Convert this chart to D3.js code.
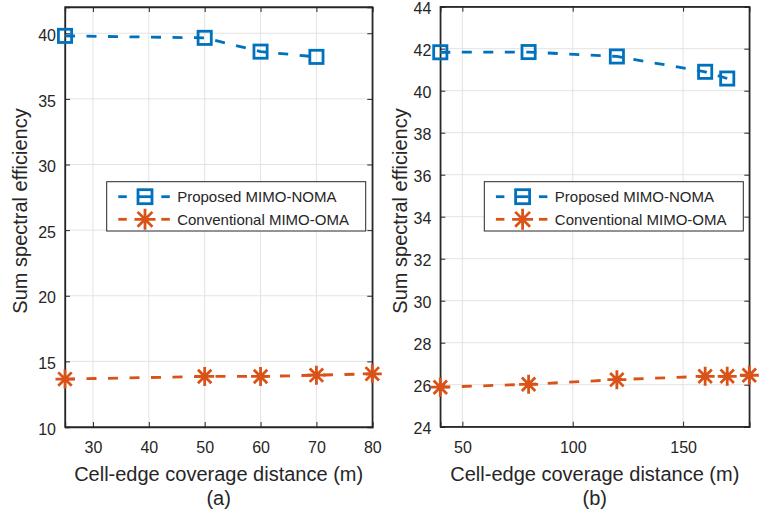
<!DOCTYPE html>
<html><head><meta charset="utf-8">
<script src="https://cdn.jsdelivr.net/npm/d3@7"></script>
<style>body{margin:0;background:#fff}svg{display:block}text{font-family:"Liberation Sans",Arial,sans-serif;fill:#262626}</style>
</head><body>
<svg id="c" width="764" height="516"></svg>
<script>
// ---- data ----
const seriesNames = ["Proposed MIMO-NOMA", "Conventional MIMO-OMA"];
// panel (a)
const aNomaX = [25, 50, 60, 70];
const aNomaY = [39.8, 39.65, 38.6, 38.2];
const aOmaX = [25, 50, 60, 70, 80];
const aOmaY = [13.65, 13.85, 13.85, 13.95, 14.05];
const aXTicks = [30, 40, 50, 60, 70, 80];
const aYTicks = [10, 15, 20, 25, 30, 35, 40];
// panel (b)
const bNomaX = [40, 80, 120, 160, 170];
const bNomaY = [41.83, 41.84, 41.63, 40.9, 40.58];
const bOmaX = [40, 80, 120, 160, 170, 180];
const bOmaY = [25.88, 26.02, 26.24, 26.4, 26.4, 26.45];
const bXTicks = [50, 100, 150];
const bYTicks = [24, 26, 28, 30, 32, 34, 36, 38, 40, 42, 44];

const blue = "#0072BD", orange = "#D95319", axisCol = "#262626", gridCol = "#e3e3e3";
const svg = d3.select("#c");
const LW = 2.8;

function asteriskPath(s){
  const r = s/2, d = r*0.707;
  return `M${-r},0L${r},0M0,${-r}L0,${r}M${-d},${-d}L${d},${d}M${-d},${d}L${d},${-d}`;
}

function panel(o){
  const g = svg.append("g");
  const x = d3.scaleLinear().domain(o.xDom).range([o.left, o.right]);
  const y = d3.scaleLinear().domain(o.yDom).range([o.bottom, o.top]);
  // grid
  g.append("g").selectAll("line").data(o.xTicks).join("line")
    .attr("x1", d=>x(d)).attr("x2", d=>x(d)).attr("y1", o.top).attr("y2", o.bottom)
    .attr("stroke", gridCol).attr("stroke-width", 1);
  g.append("g").selectAll("line").data(o.yTicks).join("line")
    .attr("y1", d=>y(d)).attr("y2", d=>y(d)).attr("x1", o.left).attr("x2", o.right)
    .attr("stroke", gridCol).attr("stroke-width", 1);
  // axes
  const ax = g.append("g").attr("transform", `translate(0,${o.bottom})`)
    .call(d3.axisBottom(x).tickValues(o.xTicks).tickSize(-5).tickPadding(15));
  const axT = g.append("g").attr("transform", `translate(0,${o.top})`)
    .call(d3.axisTop(x).tickValues(o.xTicks).tickSize(-5).tickFormat(""));
  const ay = g.append("g").attr("transform", `translate(${o.left},0)`)
    .call(d3.axisLeft(y).tickValues(o.yTicks).tickSize(-5).tickPadding(9));
  const ayR = g.append("g").attr("transform", `translate(${o.right},0)`)
    .call(d3.axisRight(y).tickValues(o.yTicks).tickSize(-5).tickFormat(""));
  [ax, axT, ay, ayR].forEach(a=>{
    a.selectAll(".domain").attr("stroke", axisCol).attr("stroke-width", 1.3);
    a.selectAll(".tick line").attr("stroke", axisCol).attr("stroke-width", 1);
    a.selectAll("text").attr("font-size", 16).attr("fill", axisCol)
      .attr("font-family", '"Liberation Sans",Arial,sans-serif');
  });
  ay.selectAll("text").attr("dy", "0.45em");
  g.append("rect").attr("x", o.left).attr("y", o.top).attr("width", o.right-o.left).attr("height", o.bottom-o.top)
    .attr("fill", "none").attr("stroke", axisCol).attr("stroke-width", 1.3);
  // lines
  const line = d3.line().x(d=>x(d[0])).y(d=>y(d[1]));
  const nd = o.nomaX.map((v,i)=>[v,o.nomaY[i]]);
  const od = o.omaX.map((v,i)=>[v,o.omaY[i]]);
  g.append("path").datum(nd).attr("d", line).attr("fill","none").attr("stroke", blue)
    .attr("stroke-width", LW).attr("stroke-dasharray", "10,11.5");
  g.append("path").datum(od).attr("d", line).attr("fill","none").attr("stroke", orange)
    .attr("stroke-width", LW).attr("stroke-dasharray", "10,11.5");
  g.append("g").selectAll("rect").data(nd).join("rect")
    .attr("x", d=>x(d[0])-6.6).attr("y", d=>y(d[1])-6.6).attr("width", 13.2).attr("height", 13.2)
    .attr("fill","none").attr("stroke", blue).attr("stroke-width", LW);
  g.append("g").selectAll("path").data(od).join("path")
    .attr("transform", d=>`translate(${x(d[0])},${y(d[1])})`)
    .attr("d", asteriskPath(19)).attr("stroke", orange).attr("stroke-width", LW).attr("fill","none");
  // labels
  g.append("text").attr("x", (o.left+o.right)/2).attr("y", 481).attr("text-anchor","middle")
    .attr("font-size", 20).text("Cell-edge coverage distance (m)");
  g.append("text").attr("x", (o.left+o.right)/2).attr("y", 505).attr("text-anchor","middle")
    .attr("font-size", 20).text(o.tag);
  g.append("text").attr("transform", `translate(${o.ylabX},211) rotate(-90)`)
    .attr("text-anchor","middle").attr("font-size", 20).text("Sum spectral efficiency");
  // legend
  const L = o.legend;
  g.append("rect").attr("x", L[0]).attr("y", L[1]).attr("width", L[2]).attr("height", L[3])
    .attr("fill","#fff").attr("stroke", axisCol).attr("stroke-width", 1);
  const rows = [{c: blue, m: "sq"}, {c: orange, m: "ast"}];
  rows.forEach((r,i)=>{
    const cy = L[1] + 15 + i*22.6, sx = L[0] + 11.6, mx = L[0] + 38.3;
    g.append("line").attr("x1", sx).attr("x2", sx+8.5).attr("y1", cy).attr("y2", cy)
      .attr("stroke", r.c).attr("stroke-width", LW);
    g.append("line").attr("x1", sx+43).attr("x2", sx+51.5).attr("y1", cy).attr("y2", cy)
      .attr("stroke", r.c).attr("stroke-width", LW);
    if (r.m === "sq") {
      g.append("line").attr("x1", mx-6).attr("x2", mx+6).attr("y1", cy).attr("y2", cy)
        .attr("stroke", r.c).attr("stroke-width", LW);
      g.append("rect").attr("x", mx-7).attr("y", cy-7).attr("width",14).attr("height",14)
        .attr("fill","none").attr("stroke", r.c).attr("stroke-width", LW);
    } else g.append("path").attr("transform", `translate(${mx},${cy})`).attr("d", asteriskPath(21))
      .attr("stroke", r.c).attr("stroke-width", LW);
    g.append("text").attr("x", L[0]+70.5).attr("y", cy+5.5).attr("font-size", 15).attr("fill", "#000")
      .text(seriesNames[i]);
  });
}

panel({left: 65, right: 372.3, top: 7, bottom: 427, xDom: [25, 80], yDom: [10, 42],
  xTicks: aXTicks, yTicks: aYTicks, nomaX: aNomaX, nomaY: aNomaY, omaX: aOmaX, omaY: aOmaY,
  tag: "(a)", legend: [106.7, 181.7, 259, 49.3], ylabX: 27});
panel({left: 440.3, right: 749.3, top: 6.7, bottom: 426.7, xDom: [40, 180], yDom: [24, 44],
  xTicks: bXTicks, yTicks: bYTicks, nomaX: bNomaX, nomaY: bNomaY, omaX: bOmaX, omaY: bOmaY,
  tag: "(b)", legend: [484.3, 181.7, 259, 49.3], ylabX: 407});
</script>
</body></html>
